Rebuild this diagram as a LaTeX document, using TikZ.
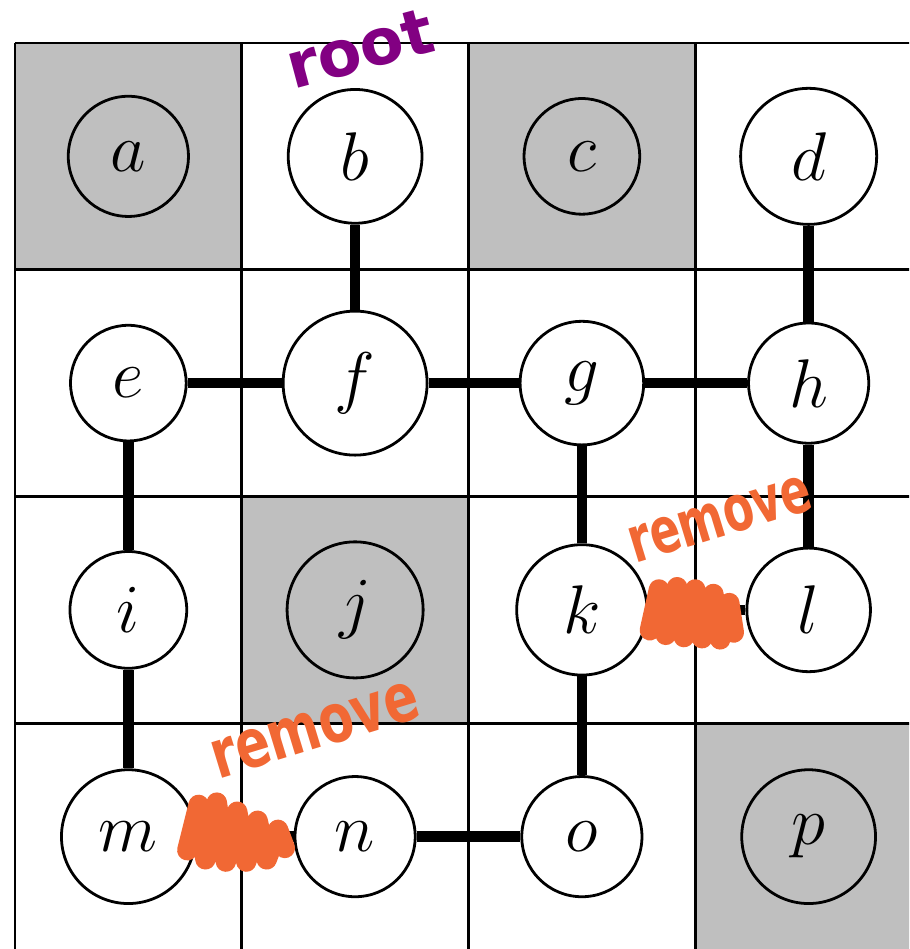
\documentclass[tikz,border=0pt]{standalone}
\usepackage{graphicx}
\usepackage{fontspec}
\newfontfamily\handfont{DejaVu Sans}
\usepackage{tikz}
\usetikzlibrary{positioning}
\definecolor{cellgray}{RGB}{191,191,191}
\definecolor{rootink}{RGB}{130,0,130}
\definecolor{scribble}{RGB}{241,104,52}

\begin{document}
\begin{tikzpicture}[
  vtx/.style={draw, circle, line width=0.7pt, fill=white, inner sep=0pt, font=\LARGE},
  blocked/.style={vtx, fill=cellgray},
  edge/.style={line width=2.6pt},
  scrib/.style={draw=scribble, line width=1.8mm, line cap=round, line join=round},
  ink/.style={font=\handfont\bfseries\fontsize{16}{16}\selectfont, inner sep=0pt}]
  \clip (-0.132,0.379) rectangle (7.887,-7.991);
  \foreach \c/\r in {0/0, 2/0, 1/2, 3/3}
    \fill[cellgray] (2*\c,-2*\r) rectangle ++(2,-2);
  \draw[line width=0.7pt, step=2] (0,-8) grid (8,0);
  \foreach \lbl/\c/\r/\d in {b/1/0/1.18, d/3/0/1.2, e/0/1/1.02, f/1/1/1.27,
      g/2/1/1.09, h/3/1/1.06, i/0/2/1.03, k/2/2/1.15, l/3/2/1.09,
      m/0/3/1.18, n/1/3/1.06, o/2/3/1.06}
    \node[vtx, minimum size=\d cm] (\lbl) at (2*\c+1,-2*\r-1) {$\lbl$};
  \foreach \lbl/\c/\r/\d in {a/0/0/1.06, c/2/0/1.02, j/1/2/1.2, p/3/3/1.18}
    \node[blocked, minimum size=\d cm] (\lbl) at (2*\c+1,-2*\r-1) {$\lbl$};
  \foreach \u/\w in {b/f, d/h, e/f, f/g, g/h, e/i, g/k, h/l, i/m, k/o, n/o, m/n, k/l}
    \draw[edge] (\u) -- (\w);
  \draw[scrib] (1.52,-7.12) -- (1.62,-6.72) -- (1.68,-7.2) -- (1.78,-6.70) -- (1.86,-7.22)
    -- (1.96,-6.78) -- (2.04,-7.22) -- (2.14,-6.86) -- (2.22,-7.2) -- (2.32,-6.94) -- (2.38,-7.1);
  \draw[scrib] (5.60,-5.18) -- (5.68,-4.82) -- (5.74,-5.22) -- (5.84,-4.80) -- (5.90,-5.24)
    -- (6.00,-4.82) -- (6.06,-5.25) -- (6.16,-4.86) -- (6.22,-5.26) -- (6.30,-4.94) -- (6.34,-5.2);
  \node[ink, text=rootink, rotate=15] (rootnote) at (3.04,-0.05) {root};
  \node[ink, text=scribble, rotate=17] (cutkl) at (6.22,-4.20) {\scalebox{0.7}[1]{remove}};
  \node[ink, text=scribble, rotate=17, font=\handfont\bfseries\fontsize{17}{17}\selectfont] (cutmn)
    at (2.65,-6.06) {\scalebox{0.75}[1]{remove}};
\end{tikzpicture}
\end{document}
